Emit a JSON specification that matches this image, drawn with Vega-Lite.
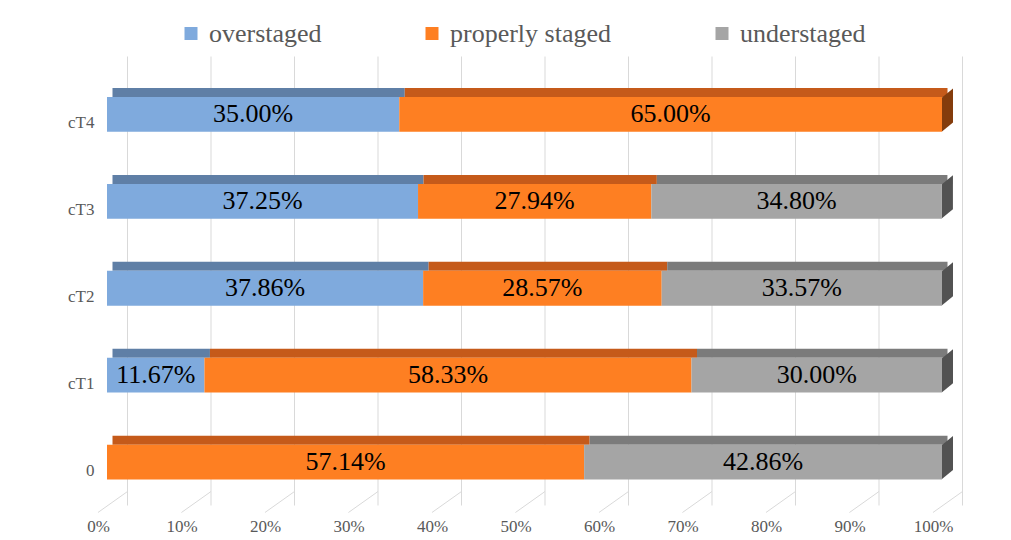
{
  "$schema": "https://vega.github.io/schema/vega-lite/v6.json",
  "autosize": {"type": "none"},
  "padding": {"left": 107, "top": 71, "right": 69, "bottom": 34.5},
  "width": 835,
  "height": 434.5,
  "background": "white",
  "config": {
    "view": {"stroke": null},
    "font": "Liberation Serif"
  },
  "datasets": {
    "main": [
      {"cat": "cT4", "group": "overstaged", "value": 0.35},
      {"cat": "cT4", "group": "properly staged", "value": 0.65},
      {"cat": "cT3", "group": "overstaged", "value": 0.3725},
      {"cat": "cT3", "group": "properly staged", "value": 0.2794},
      {"cat": "cT3", "group": "understaged", "value": 0.348},
      {"cat": "cT2", "group": "overstaged", "value": 0.3786},
      {"cat": "cT2", "group": "properly staged", "value": 0.2857},
      {"cat": "cT2", "group": "understaged", "value": 0.3357},
      {"cat": "cT1", "group": "overstaged", "value": 0.1167},
      {"cat": "cT1", "group": "properly staged", "value": 0.5833},
      {"cat": "cT1", "group": "understaged", "value": 0.30},
      {"cat": "0", "group": "properly staged", "value": 0.5714},
      {"cat": "0", "group": "understaged", "value": 0.4286}
    ],
    "ticks": [
      {"tick": 0}, {"tick": 0.1}, {"tick": 0.2}, {"tick": 0.3}, {"tick": 0.4}, {"tick": 0.5},
      {"tick": 0.6}, {"tick": 0.7}, {"tick": 0.8}, {"tick": 0.9}, {"tick": 1}
    ]
  },
  "resolve": {"scale": {"color": "independent"}},
  "layer": [
    {
      "data": {"name": "ticks"},
      "mark": {"type": "rule", "color": "#D9D9D9", "strokeWidth": 1, "xOffset": 20.5, "yOffset": -14.5, "y2Offset": -14.5},
      "encoding": {
        "x": {"field": "tick", "type": "quantitative", "scale": {"domain": [0, 1], "nice": false, "zero": false}}
      }
    },
    {
      "data": {"name": "ticks"},
      "mark": {"type": "point", "shape": "M1,-0.7L-0.97,0.7", "size": 900, "filled": false, "stroke": "#D9D9D9", "strokeWidth": 1, "opacity": 1, "xOffset": 5.5, "yOffset": 213.75},
      "encoding": {
        "x": {"field": "tick", "type": "quantitative"}
      }
    },
    {
      "data": {"name": "main"},
      "transform": [
        {"stack": "value", "groupby": ["cat"], "sort": [{"field": "group", "order": "ascending"}], "as": ["x0", "x1"]}
      ],
      "mark": {"type": "bar", "height": 9, "yOffset": -21.9, "xOffset": 5.5, "x2Offset": 5.5},
      "encoding": {
        "y": {"field": "cat", "type": "nominal", "sort": ["cT4", "cT3", "cT2", "cT1", "0"], "scale": {"paddingInner": 0.6, "paddingOuter": 0.3}},
        "x": {"field": "x0", "type": "quantitative"},
        "x2": {"field": "x1"},
        "color": {"field": "group", "type": "nominal", "scale": {"domain": ["overstaged", "properly staged", "understaged"], "range": ["#5F7FA6", "#C55A1A", "#7B7B7B"]}, "legend": null}
      }
    },
    {
      "data": {"name": "main"},
      "transform": [
        {"stack": "value", "groupby": ["cat"], "sort": [{"field": "group", "order": "ascending"}], "as": ["x0", "x1"]},
        {"filter": "datum.x1 > 0.999"}
      ],
      "mark": {"type": "point", "shape": "M-0.25,-0.568L0.25,-0.977L0.25,0.568L-0.25,0.977Z", "size": 1936, "filled": true, "opacity": 1, "strokeWidth": 0, "xOffset": 5.5, "yOffset": -4.5},
      "encoding": {
        "y": {"field": "cat", "type": "nominal", "sort": ["cT4", "cT3", "cT2", "cT1", "0"]},
        "x": {"field": "x1", "type": "quantitative"},
        "color": {"field": "group", "type": "nominal", "scale": {"domain": ["overstaged", "properly staged", "understaged"], "range": ["#3E5F86", "#843C0C", "#525252"]}, "legend": null}
      }
    },
    {
      "data": {"name": "main"},
      "transform": [
        {"stack": "value", "groupby": ["cat"], "sort": [{"field": "group", "order": "ascending"}], "as": ["x0", "x1"]}
      ],
      "mark": {"type": "bar"},
      "encoding": {
        "y": {"field": "cat", "type": "nominal", "sort": ["cT4", "cT3", "cT2", "cT1", "0"], "title": null,
              "axis": {"domain": false, "ticks": false, "labelPadding": 13, "labelOffset": 9, "labelFont": "Liberation Serif", "labelFontSize": 17, "labelColor": "#595959"}},
        "x": {"field": "x0", "type": "quantitative", "title": null,
              "axis": {"values": [0, 0.1, 0.2, 0.3, 0.4, 0.5, 0.6, 0.7, 0.8, 0.9, 1], "format": "%", "domain": false, "ticks": false, "grid": false, "labelPadding": 13, "labelOffset": -9, "labelFont": "Liberation Serif", "labelFontSize": 17, "labelColor": "#595959", "labelFlush": false}},
        "x2": {"field": "x1"},
        "color": {"field": "group", "type": "nominal", "scale": {"domain": ["overstaged", "properly staged", "understaged"], "range": ["#7FAADD", "#FE7F22", "#A5A5A5"]},
                  "legend": {"orient": "none", "legendX": 71, "legendY": -50.5, "direction": "horizontal", "title": null, "symbolType": "square", "symbolSize": 169, "symbolStrokeWidth": 0, "labelFont": "Liberation Serif", "labelFontSize": 26, "labelColor": "#595959", "labelLimit": 400, "columnPadding": 97, "labelOffset": 5}}
      }
    },
    {
      "data": {"name": "main"},
      "transform": [
        {"stack": "value", "groupby": ["cat"], "sort": [{"field": "group", "order": "ascending"}], "as": ["x0", "x1"]},
        {"fold": ["x0", "x1"], "as": ["edge", "pos"]},
        {"aggregate": [{"op": "mean", "field": "pos", "as": "mid"}], "groupby": ["cat", "group", "value"]}
      ],
      "mark": {"type": "text", "font": "Liberation Serif", "fontSize": 26, "color": "black", "baseline": "middle", "align": "center"},
      "encoding": {
        "y": {"field": "cat", "type": "nominal", "sort": ["cT4", "cT3", "cT2", "cT1", "0"]},
        "x": {"field": "mid", "type": "quantitative"},
        "text": {"field": "value", "type": "quantitative", "format": ".2%"}
      }
    }
  ]
}
